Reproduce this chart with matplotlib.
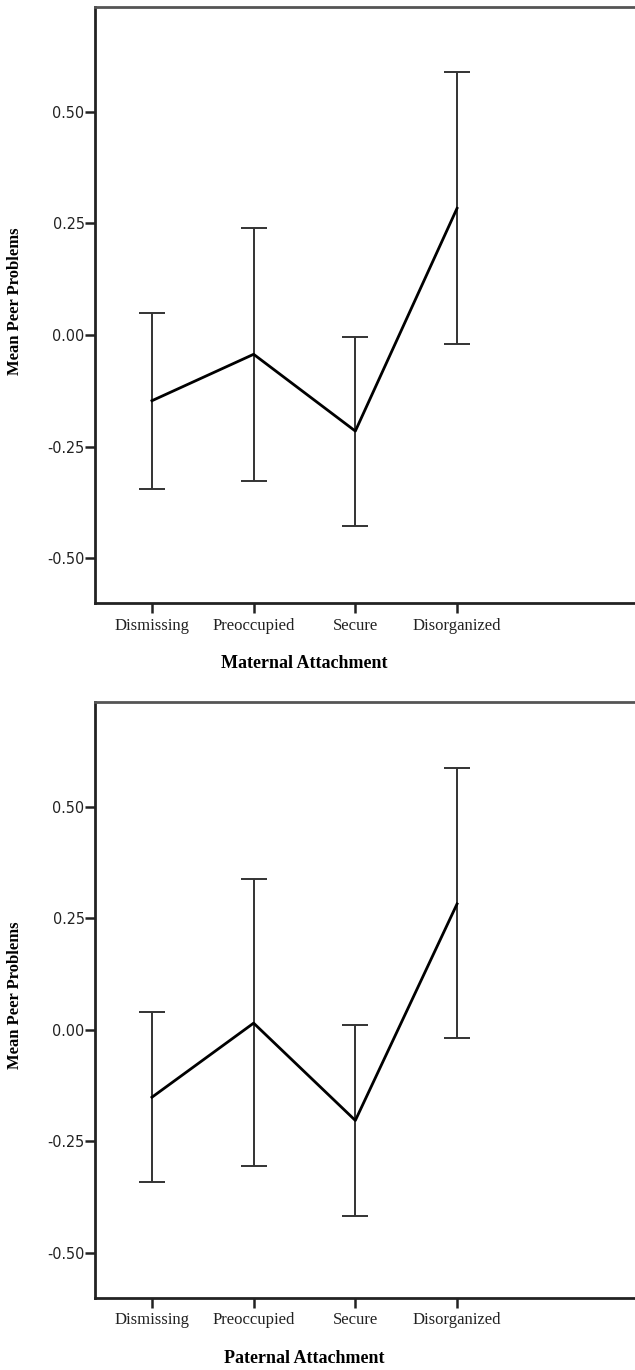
import numpy as np
import matplotlib.pyplot as plt

categories = ["Dismissing", "Preoccupied", "Secure", "Disorganized"]

# maternal attachment: means and 95% CI bounds
mat_mean = [-0.147, -0.043, -0.215, 0.284]
mat_upper = [0.049, 0.241, -0.004, 0.589]
mat_lower = [-0.344, -0.327, -0.428, -0.019]

# paternal attachment
pat_mean = [-0.151, 0.015, -0.203, 0.282]
pat_upper = [0.039, 0.338, 0.010, 0.586]
pat_lower = [-0.341, -0.305, -0.417, -0.019]

yticks = [-0.50, -0.25, 0.00, 0.25, 0.50]
panels = [
    ("Maternal Attachment", mat_mean, mat_upper, mat_lower),
    ("Paternal Attachment", pat_mean, pat_upper, pat_lower),
]

serif = ["Liberation Serif", "DejaVu Serif"]

fig = plt.figure(figsize=(6.35, 13.7), dpi=100)
boxes = [[0.1496, 0.5599, 0.8504, 0.4350], [0.1496, 0.0528, 0.8504, 0.4350]]

for box, (xlabel, mean, upper, lower) in zip(boxes, panels):
    ax = fig.add_axes(box)
    x = np.arange(1, len(categories) + 1)
    mean = np.array(mean)
    err = [mean - np.array(lower), np.array(upper) - mean]
    ax.errorbar(x, mean, yerr=err, fmt="none", ecolor="#333333",
                elinewidth=1.4, capsize=9.4, capthick=1.4)
    ax.plot(x, mean, color="black", lw=2.0)

    ax.set_xlim(0.44, 5.75)
    ax.set_ylim(-0.60, 0.735)
    ax.set_yticks(yticks)
    ax.set_yticklabels(["%.2f" % v for v in yticks], family="DejaVu Sans",
                       fontstretch="condensed", fontsize=11.5, color="#222222")
    ax.set_xticks(x)
    ax.set_xticklabels(categories, family=serif, fontsize=12, color="#222222")
    ax.tick_params(axis="y", length=7, width=1.8, pad=0.5, color="#222222")
    ax.tick_params(axis="x", length=7.5, width=1.8, pad=3, color="#222222")

    ax.spines["right"].set_visible(False)
    ax.spines["left"].set_linewidth(2.0)
    ax.spines["bottom"].set_linewidth(2.0)
    ax.spines["top"].set_linewidth(2.0)
    ax.spines["left"].set_color("#222222")
    ax.spines["bottom"].set_color("#222222")
    ax.spines["top"].set_color("#555555")

    ax.set_xlabel(xlabel, family=serif, fontsize=13, fontweight="bold")
    ax.xaxis.set_label_coords(0.388, -0.087)
    ax.set_ylabel("Mean Peer Problems", family=serif, fontsize=12, fontweight="bold")
    ax.yaxis.set_label_coords(-0.133, 0.507)

fig.savefig("out.png", dpi=100)
